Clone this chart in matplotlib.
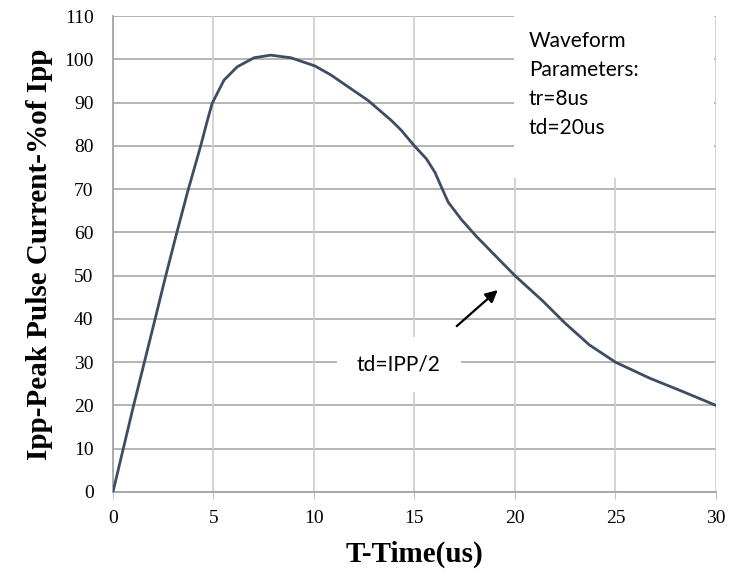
import matplotlib.pyplot as plt

# values
time_us = [0, 1.0, 2.07, 2.6, 3.15, 3.72, 4.35, 4.68, 4.93, 5.52, 6.18, 7.02, 7.85, 8.85,
           10.05, 10.85, 11.35, 12.7, 13.85, 14.35, 15.0, 15.6, 16.02, 16.35, 16.68, 17.35,
           18.1, 20.0, 21.35, 22.5, 23.7, 25.0, 26.7, 28.35, 30]
current_pct = [0, 19.5, 39.5, 49.5, 59.5, 69.5, 79.8, 85.6, 89.8, 95.2, 98.3, 100.4, 101.0, 100.4,
               98.5, 96.4, 94.8, 90.5, 85.9, 83.6, 80, 77.0, 73.9, 70.4, 67.0, 62.9,
               59, 50, 44.3, 39, 34, 30, 26.3, 23.2, 20]

x_ticks = [0, 5, 10, 15, 20, 25, 30]
y_ticks = list(range(0, 111, 10))

params_text = "Waveform\nParameters:\ntr=8us\ntd=20us"
note_text = "td=IPP/2"

fig = plt.figure(figsize=(7.29, 5.80), dpi=100)
ax = fig.add_axes([0.155, 0.152, 0.827, 0.820])

ax.plot(time_us, current_pct, color="#3e4d63", lw=2.0, zorder=4,
        solid_joinstyle="round", solid_capstyle="round")

ax.set_xlim(0, 30)
ax.set_ylim(0, 110)
ax.set_xticks(x_ticks)
ax.set_yticks(y_ticks)

for y in y_ticks:
    ax.axhline(y, color="#a8a8a8", lw=1.2, zorder=1)
for x in x_ticks:
    ax.axvline(x, color="#cccccc", lw=1.2, zorder=1)

for side in ["top", "right"]:
    ax.spines[side].set_visible(False)
for side in ["left", "bottom"]:
    ax.spines[side].set_color("#a0a0a0")
    ax.spines[side].set_linewidth(1.2)
    ax.spines[side].set_zorder(3)

ax.tick_params(axis="x", direction="out", length=5, color="#c0c0c0", pad=8)
ax.tick_params(axis="y", length=0, pad=14)
for lab in ax.get_xticklabels() + ax.get_yticklabels():
    lab.set_fontfamily("Liberation Serif")
    lab.set_fontsize(14)

ax.set_xlabel("T-Time(us)", fontfamily="Liberation Serif", fontweight="bold",
              fontsize=21, labelpad=10)
ax.set_ylabel("Ipp-Peak Pulse Current-%of Ipp", fontfamily="Liberation Serif",
              fontweight="bold", fontsize=21, labelpad=8)

# white boxes hiding the grid behind the text, as in the reference
ax.add_patch(plt.Rectangle((19.95, 72.6), 9.95, 37.4, facecolor="white",
                           edgecolor="none", zorder=2))
ax.add_patch(plt.Rectangle((11.15, 23.1), 6.15, 12.7, facecolor="white",
                           edgecolor="none", zorder=2))

ax.text(20.7, 106.5, params_text, fontfamily="Lato", fontsize=15,
        va="top", ha="left", linespacing=1.55, zorder=5)
ax.text(14.2, 29.5, note_text, fontfamily="Lato", fontsize=15,
        va="center", ha="center", zorder=5)

ax.annotate("", xy=(19.25, 47.1), xytext=(17.0, 37.9),
            arrowprops=dict(arrowstyle="-|>", color="black", lw=1.6,
                            mutation_scale=18), zorder=5)

fig.savefig("out.png", dpi=100)
